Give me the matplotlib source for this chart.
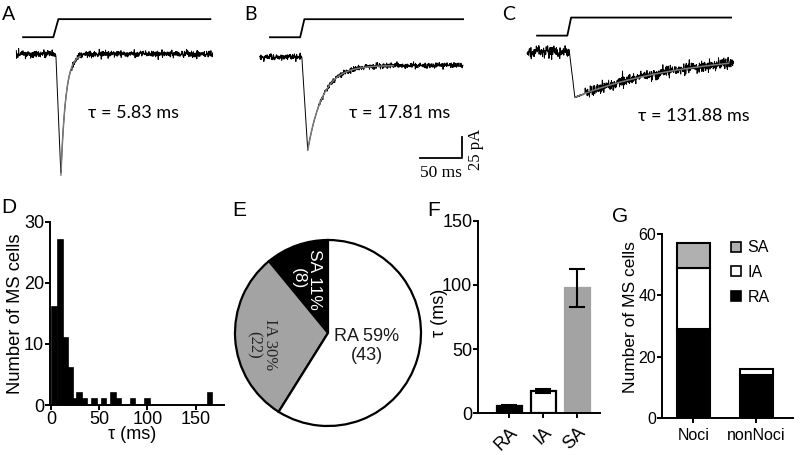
import numpy as np
import matplotlib.pyplot as plt
from matplotlib.patches import Patch

plt.rcParams['font.family'] = ['Liberation Sans', 'DejaVu Sans']

# ---- data ----
# A-C: example MS currents, exponential fit values
tau_ms = [5.83, 17.81, 131.88]
tau_labels = ['τ = 5.83 ms', 'τ = 17.81 ms', 'τ = 131.88 ms']
peak_pA = [144, 111, 54]
steady_pA = [0, 10, 0]
onset_ms = [1, 1, 0.5]
peak_ms = [7, 8, 7]
trace_start = [-46, -49, -50]
trace_end = [188, 193, 196]
noise_pA = [2.0, 1.8, 3.2]
fit_end_ms = [30, 110, 190]
stim_t = [[-38, -2, 4, 185], [-37, -1, 4, 193], [-38, -2, 2.5, 193]]
stim_level = [0, 0, 1, 1]
scale_ms, scale_pA = 50, 25

# D: histogram of tau
hist_center = [3.5, 10, 15, 20, 25, 30, 35, 45, 55, 65, 70, 85, 100, 165]
hist_count = [16, 27, 11, 6, 1, 2, 1, 1, 1, 2, 1, 1, 1, 2]

# E: proportions
pie_names = ['SA', 'IA', 'RA']
pie_count = [8, 22, 43]
pie_pct = [11, 30, 59]

# F: mean tau
f_names = ['RA', 'IA', 'SA']
f_mean = [6, 17.5, 97.5]
f_sem = [0.5, 1.5, 15]

# G: cells per group
g_names = ['Noci', 'nonNoci']
g_ra = [29, 14]
g_ia = [20, 2]
g_sa = [8, 0]

W, H = 800, 455
fig = plt.figure(figsize=(8, 4.55), dpi=100)
CAL = ['Lato', 'DejaVu Sans']
SERIF = 'Liberation Serif'
GRAY = '#a3a3a3'


def rect(x0, y0, x1, y1):
    # pixel box (origin top-left) -> figure fraction
    return [x0 / W, 1 - y1 / H, (x1 - x0) / W, (y1 - y0) / H]


def style(ax, size):
    for s in ['top', 'right']:
        ax.spines[s].set_visible(False)
    for s in ['left', 'bottom']:
        ax.spines[s].set_linewidth(1.4)
    ax.tick_params(direction='out', length=3.5, width=1.4, labelsize=size,
                   pad=0.8)


# ---- A-C traces ----
S = 0.84  # pixels per ms and per pA
origins = [(55, 54), (301, 57), (569, 52)]
stim_base = [20, 23.5, 19.5]
stim_h = 21.5
text_pos = [(93, -70), (118, -67), (149, -76)]
rng = np.random.default_rng(3)
trace_axes = []
for i, (x0, y0) in enumerate(origins):
    ax = fig.add_axes(rect(x0 - 60, 0, x0 + 215, 190))
    ax.set_xlim(-60 / S, 215 / S)
    ax.set_ylim(-(190 - y0) / S, y0 / S)
    ax.axis('off')
    t = np.arange(trace_start[i], trace_end[i], 0.3)
    amp, ss, tau = peak_pA[i], steady_pA[i], tau_ms[i]
    rise = np.clip((t - onset_ms[i]) / (peak_ms[i] - onset_ms[i]), 0, 1)
    decay = ss + (amp - ss) * np.exp(-(t - peak_ms[i]) / tau)
    cur = np.where(t < peak_ms[i], -amp * rise, -decay)
    noise = rng.normal(0, noise_pA[i], t.size)
    fast = (t > onset_ms[i]) & (t < peak_ms[i] + 2 * min(tau, 6))
    noise[fast] *= 0.15
    ax.plot(t, cur + noise, color='k', lw=0.7)
    tf = np.linspace(peak_ms[i], fit_end_ms[i], 200)
    ax.plot(tf, -(ss + (amp - ss) * np.exp(-(tf - peak_ms[i]) / tau)),
            color='#7a7a7a', lw=1.1)
    ax.plot(stim_t[i], [stim_base[i] + stim_h * v for v in stim_level],
            color='k', lw=1.3)
    ax.text(*text_pos[i], tau_labels[i], family=CAL, fontsize=13,
            ha='center', va='center')
    trace_axes.append(ax)

# scale bar in B
axb = trace_axes[1]
bx, by = 191.7, -120
axb.plot([bx - scale_ms, bx, bx], [by, by, by + scale_pA], color='k', lw=1.3)
axb.text(bx - scale_ms / 2, by - 18, f'{scale_ms} ms', family=SERIF,
         fontsize=12.5, ha='center', va='center')
axb.text(bx + 17, by + scale_pA / 2 - 3, f'{scale_pA} pA', family=SERIF,
         fontsize=12, ha='center', va='center', rotation=90)

# ---- D histogram ----
axd = fig.add_axes(rect(50, 221.7, 224.5, 405))
axd.bar(hist_center, hist_count, width=5, color='k', edgecolor='k', lw=1.2)
axd.set_xlim(-1, 180)
axd.set_ylim(0, 30)
axd.set_xticks([0, 50, 100, 150])
axd.set_yticks([0, 10, 20, 30])
style(axd, 13)
axd.set_ylabel('Number of MS cells', fontsize=13.2)
axd.yaxis.set_label_coords(-0.15, 0.5)
axd.set_xlabel('τ (ms)', fontsize=13)
axd.xaxis.set_label_coords(0.47, -0.115)

# ---- E pie ----
axe = fig.add_axes(rect(228, 233, 428, 433))
axe.pie(pie_count, colors=['k', GRAY, 'w'], startangle=90, counterclock=True,
        wedgeprops=dict(edgecolor='k', linewidth=1.6))
axe.set_xlim(-100 / 93, 100 / 93)
axe.set_ylim(-100 / 93, 100 / 93)
axe.set_aspect('equal')
axe.text(-0.231, 0.581, f'{pie_names[0]} {pie_pct[0]}%\n({pie_count[0]})',
         color='w', fontsize=12.5, rotation=-90, ha='center',
         va='center', multialignment='center', linespacing=1.1)
axe.text(-0.71, -0.129, f'{pie_names[1]} {pie_pct[1]}%\n({pie_count[1]})',
         color='#262626', family=SERIF, fontsize=12, rotation=-90, ha='center',
         va='center', multialignment='center', linespacing=1.05)
axe.text(0.419, -0.14, f'{pie_names[2]} {pie_pct[2]}%\n({pie_count[2]})',
         color='#1a1a1a', fontsize=13, ha='center', va='center',
         multialignment='center', linespacing=1.15)

# ---- F bars ----
axf = fig.add_axes(rect(478.3, 220.7, 599.7, 413.3))
xf = np.arange(len(f_names))
axf.bar(xf, f_mean, width=0.73, color=['k', 'w', GRAY],
        edgecolor=['k', 'k', GRAY], lw=1.6)
axf.errorbar(xf, f_mean, yerr=f_sem, fmt='none', ecolor='k', elinewidth=1.5,
             capsize=6, capthick=1.5)
axf.set_xlim(-0.9, 2.65)
axf.set_ylim(0, 150)
axf.set_yticks([0, 50, 100, 150])
axf.set_xticks(xf)
axf.set_xticklabels(f_names, rotation=45, ha='right', va='top',
                    rotation_mode='anchor')
style(axf, 13)
axf.tick_params(axis='x', pad=4)
axf.set_ylabel('τ (ms)', fontsize=13)
axf.yaxis.set_label_coords(-0.25, 0.52)

# ---- G stacked bars ----
axg = fig.add_axes(rect(662, 234, 793, 418))
xg = np.arange(len(g_names))
kw = dict(width=0.52, edgecolor='k', lw=1.5)
axg.bar(xg, g_ra, color='k', **kw)
axg.bar(xg, g_ia, bottom=g_ra, color='w', **kw)
axg.bar(xg, g_sa, bottom=np.add(g_ra, g_ia), color='#b0b0b0',
        **{**kw, 'edgecolor': ['k', 'none']})
axg.set_xlim(-0.5, 1.58)
axg.set_ylim(0, 60)
axg.set_yticks([0, 20, 40, 60])
axg.set_xticks(xg)
axg.set_xticklabels(g_names)
style(axg, 11.5)
axg.tick_params(axis='x', pad=4)
axg.set_ylabel('Number of MS cells', fontsize=12.5)
axg.yaxis.set_label_coords(-0.185, 0.55)
handles = [Patch(facecolor=c, edgecolor='k', lw=1.2)
           for c in ['#b0b0b0', 'w', 'k']]
axg.legend(handles, ['SA', 'IA', 'RA'], loc='upper left',
           bbox_to_anchor=(0.53, 0.965), frameon=False, borderpad=0,
           borderaxespad=0, handlelength=0.6, handleheight=0.6,
           handletextpad=0.4, labelspacing=0.6, prop=dict(size=11.5))

# ---- panel letters ----
for lab, (x, y) in zip('ABC', [(8.5, 14), (251, 14), (509, 14)]):
    fig.text(x / W, 1 - y / H, lab, family=CAL, fontsize=14, ha='center',
             va='center')
for lab, (x, y) in zip('DEFG', [(8.5, 208), (239, 211), (434, 210), (620, 216)]):
    fig.text(x / W, 1 - y / H, lab, fontsize=15, ha='center', va='center')

fig.savefig('out.png', dpi=100)
